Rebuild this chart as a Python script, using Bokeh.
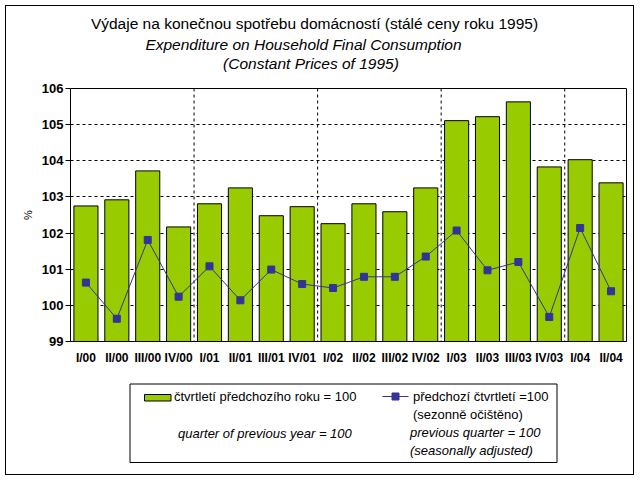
from bokeh.plotting import figure
from bokeh.layouts import column
from bokeh.models import Span, FactorRange, Range1d, FixedTicker
from bokeh.core.properties import value
from bokeh.embed import file_html
from bokeh.resources import INLINE

# ---- data ----
quarters = ["I/00", "II/00", "III/00", "IV/00",
            "I/01", "II/01", "III/01", "IV/01",
            "I/02", "II/02", "III/02", "IV/02",
            "I/03", "II/03", "III/03", "IV/03",
            "I/04", "II/04"]
yoy_values = [102.75, 102.92, 103.72, 102.17, 102.81, 103.25, 102.48, 102.73,
              102.26, 102.81, 102.59, 103.25, 105.11, 105.22, 105.63, 103.83,
              104.03, 103.39]
qoq_values = [100.63, 99.63, 101.81, 100.24, 101.08, 100.14, 100.99, 100.59,
              100.48, 100.79, 100.79, 101.35, 102.07, 100.97, 101.20, 99.68,
              102.14, 100.39]
y_ticks = [99, 100, 101, 102, 103, 104, 105, 106]

title_cz = "Výdaje na konečnou spotřebu domácností (stálé ceny roku 1995)"
title_en1 = "Expenditure on Household Final Consumption"
title_en2 = "(Constant Prices of 1995)"
leg1_cz = "čtvrtletí předchozího roku = 100"
leg1_en = "quarter of previous year = 100"
leg2_cz1 = "předchozí čtvrtletí =100"
leg2_cz2 = "(sezonně očištěno)"
leg2_en1 = "previous quarter = 100"
leg2_en2 = "(seasonally adjusted)"

GREEN = "#99CC00"
NAVY = "#333399"
FONT = "Liberation Sans"

# ---- geometry (page pixels) ----
W = 627                      # content width inside the bordered box
H_TITLE, H_MAIN, H_LEG = 74, 296, 98
TOP0 = 6                     # content top (page y)
FL, FR = 70, 626             # plot frame left/right (page x)
MBL, MBR = FL - 6, 6 + W - FR
ymin, ymax = y_ticks[0], y_ticks[-1]
nx = len(quarters)


def blank_fig(h, y_top):
    # page coordinates: x in page px (aligned to frame), y page px downward
    f = figure(width=W, height=h, output_backend="svg", toolbar_location=None,
               title=None, x_range=Range1d(FL, FR),
               y_range=Range1d(y_top + h, y_top),
               x_axis_location=None, y_axis_location=None,
               min_border_left=MBL, min_border_right=MBR,
               min_border_top=0, min_border_bottom=0)
    f.grid.visible = False
    f.outline_line_color = None
    f.background_fill_color = "white"
    f.border_fill_color = "white"
    return f


# ---- title ----
pt = blank_fig(H_TITLE, TOP0)
pt.text(x=[314], y=[23], text=[title_cz], text_align="center",
        text_baseline="middle", text_font=value(FONT),
        text_font_size=value("15.5px"), text_color="black")
pt.text(x=[303, 310.5], y=[44, 63], text=[title_en1, title_en2],
        text_align="center", text_baseline="middle", text_font=value(FONT),
        text_font_size=value("15.5px"), text_font_style="italic",
        text_color="black")

# ---- main chart ----
p = figure(width=W, height=H_MAIN, output_backend="svg", toolbar_location=None,
           title=None,
           x_range=FactorRange(*quarters, range_padding=0),
           y_range=Range1d(ymin, ymax),
           min_border_left=MBL, min_border_right=MBR,
           min_border_top=8, min_border_bottom=35)
p.background_fill_color = "white"
p.border_fill_color = "white"
p.outline_line_color = "black"
p.outline_line_width = 1

p.xgrid.visible = False
p.ygrid.grid_line_color = "black"
p.ygrid.grid_line_dash = "3 3"
p.ygrid.grid_line_width = 1
p.yaxis.ticker = FixedTicker(ticks=y_ticks)

for i in range(4, nx, 4):
    p.add_layout(Span(location=i, dimension="height", line_color="black",
                      line_dash="3 3", line_width=1, level="underlay"))

p.vbar(x=quarters, top=yoy_values, bottom=ymin, width=0.78,
       fill_color=GREEN, line_color="black", line_width=1)
p.line(x=quarters, y=qoq_values, line_color=NAVY, line_width=1)
p.scatter(x=quarters, y=qoq_values, marker="square", size=7,
          fill_color=NAVY, line_color=NAVY)

for ax in (p.xaxis, p.yaxis):
    ax.axis_line_color = "black"
    ax.major_label_text_font = FONT
    ax.major_label_text_font_style = "bold"
    ax.major_label_text_color = "black"
    ax.minor_tick_line_color = None
p.yaxis.major_label_text_font_size = "13px"
p.yaxis.major_tick_out = 5
p.yaxis.major_tick_in = 0
p.yaxis.major_tick_line_color = "black"
p.yaxis.major_label_standoff = 2
p.yaxis.axis_label = "%"
p.yaxis.axis_label_text_font = FONT
p.yaxis.axis_label_text_font_size = "11px"
p.yaxis.axis_label_text_font_style = "normal"
p.yaxis.axis_label_text_color = "black"
p.yaxis.axis_label_standoff = 5
p.xaxis.major_label_text_font_size = "12px"
p.xaxis.major_tick_line_color = None
p.xaxis.major_label_standoff = 3

# ---- legend ----
pl = blank_fig(H_LEG, TOP0 + H_TITLE + H_MAIN)
pl.quad(left=[129.5], right=[556.5], top=[383.5], bottom=[462],
        fill_color=None, line_color="black", line_width=1)
pl.quad(left=[144], right=[170.5], top=[394], bottom=[400.5],
        fill_color=GREEN, line_color="black", line_width=1)
pl.line(x=[382, 408], y=[396, 396], line_color=NAVY, line_width=1)
pl.scatter(x=[395], y=[396], marker="square", size=7,
           fill_color=NAVY, line_color=NAVY)
pl.text(x=[173.5, 412.5, 412.5], y=[396, 396, 413.5],
        text=[leg1_cz, leg2_cz1, leg2_cz2], text_align="left",
        text_baseline="middle", text_font=value(FONT),
        text_font_size=value("13px"), text_color="black")
pl.text(x=[177.5, 409.5, 409.5], y=[433, 432, 450],
        text=[leg1_en, leg2_en1, leg2_en2], text_align="left",
        text_baseline="middle", text_font=value(FONT),
        text_font_size=value("13px"), text_font_style="italic",
        text_color="black")

layout = column(pt, p, pl, spacing=0, margin=(5, 0, 0, 5),
                styles={"border": "1px solid black"})

open("out.html", "w").write(file_html(layout, INLINE))
